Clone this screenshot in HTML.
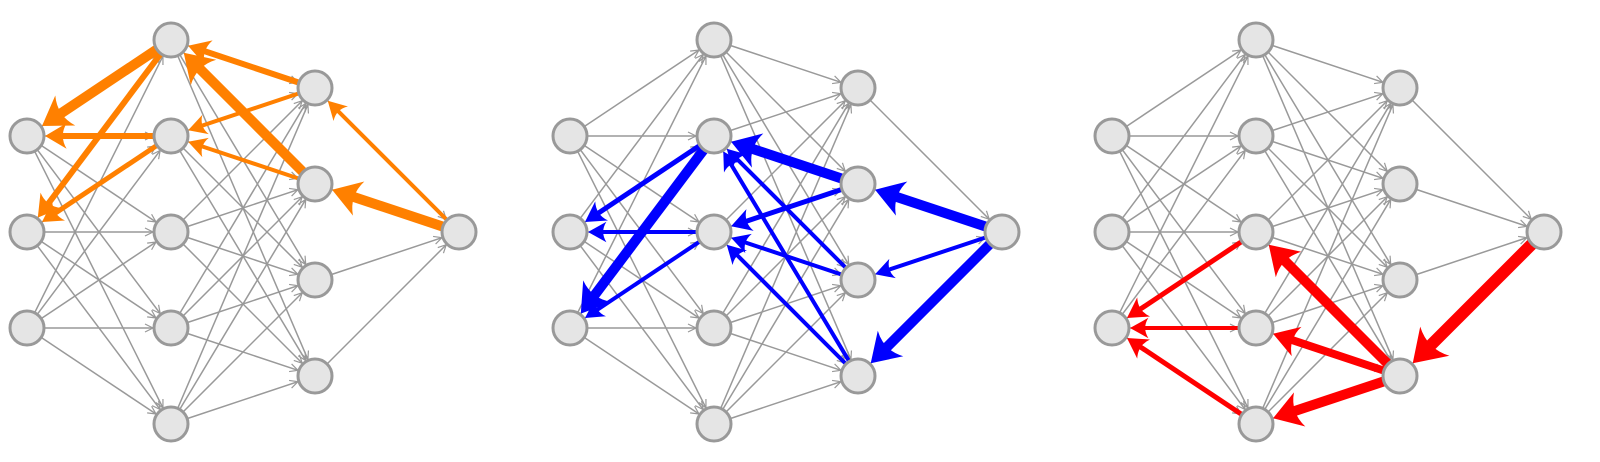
<!DOCTYPE html>
<html><head><meta charset="utf-8"><style>html,body{margin:0;padding:0;background:#fff}svg{display:block}</style></head>
<body>
<svg id="s" width="1600" height="462" xmlns="http://www.w3.org/2000/svg"></svg>
<script>
const s=document.getElementById('s');const NS='http://www.w3.org/2000/svg';
function el(t,a){const e=document.createElementNS(NS,t);for(const k in a)e.setAttribute(k,a[k]);s.appendChild(e);return e;}
const R=17;
function layers(ox){return [[136,232,328].map(y=>[ox,y]),[40,136,232,328,424].map(y=>[ox+144,y]),[88,184,280,376].map(y=>[ox+288,y]),[[ox+432,232]]];}
const panels=[layers(27),layers(570),layers(1112)];
function arrow(a,b,w,col,gray){
 const dx=b[0]-a[0],dy=b[1]-a[1],L=Math.hypot(dx,dy),ux=dx/L,uy=dy/L;
 const sx=a[0]+ux*R,sy=a[1]+uy*R,tx=b[0]-ux*(R+1),ty=b[1]-uy*(R+1);
 if(gray){
  el('line',{x1:sx,y1:sy,x2:tx,y2:ty,stroke:'#999','stroke-width':1.5});
  const h=8,hw=4,bx=tx-ux*h,by=ty-uy*h;
  el('polyline',{points:`${bx-uy*hw},${by+ux*hw} ${tx},${ty} ${bx+uy*hw},${by-ux*hw}`,fill:'none',stroke:'#999','stroke-width':1.2});
 }else{
  const h=12+w*1.6,hw=5+w*1.3,bx=tx-ux*h,by=ty-uy*h;
  const cx=bx+ux*h*0.35,cy=by+uy*h*0.35;
  el('line',{x1:sx,y1:sy,x2:cx,y2:cy,stroke:col,'stroke-width':w});
  el('path',{d:`M${bx-uy*hw},${by+ux*hw} L${tx},${ty} L${bx+uy*hw},${by-ux*hw} Q${cx},${cy} ${bx-uy*hw},${by+ux*hw}Z`,fill:col});
 }
}
panels.forEach(P=>{for(let l=0;l<3;l++)P[l].forEach(a=>P[l+1].forEach(b=>arrow(a,b,1,'',true)));});
const col=[
 ['#ff8000',[[1,0,0,0,10],[1,0,0,1,6],[1,1,0,0,6],[1,1,0,1,5],[2,0,1,0,6],[2,0,1,1,4],[2,1,1,0,10],[2,1,1,1,4],[3,0,2,0,4],[3,0,2,1,10]]],
 ['#0000ff',[[3,0,2,1,10],[3,0,2,2,4],[3,0,2,3,10],[2,1,1,1,10],[2,1,1,2,5],[2,2,1,1,4],[2,2,1,2,4],[2,3,1,1,4],[2,3,1,2,4],[1,1,0,1,5],[1,1,0,2,10],[1,2,0,1,4],[1,2,0,2,4]]],
 ['#ff0000',[[3,0,2,3,12],[2,3,1,2,10],[2,3,1,3,8],[2,3,1,4,10],[1,2,0,2,5],[1,3,0,2,4],[1,4,0,2,5]]]
];
col.forEach((c,i)=>{const P=panels[i];c[1].forEach(e=>arrow(P[e[0]][e[1]],P[e[2]][e[3]],e[4],c[0],false));});
panels.forEach(P=>P.forEach(L=>L.forEach(n=>el('circle',{cx:n[0],cy:n[1],r:R,fill:'#e5e5e5',stroke:'#999','stroke-width':3}))));
</script>
</body></html>
